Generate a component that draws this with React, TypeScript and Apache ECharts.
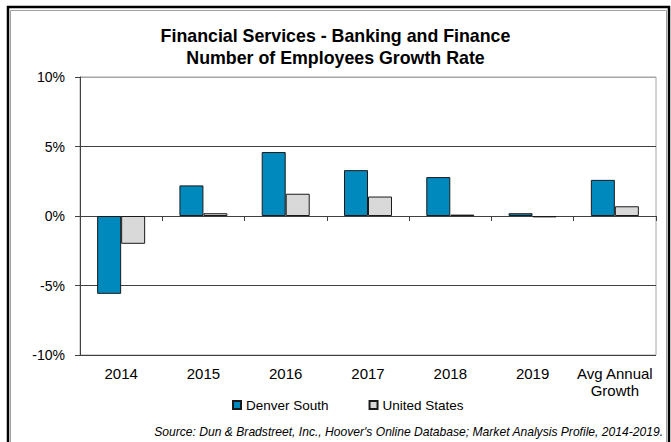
import React, { useEffect, useRef } from "react";
import * as echarts from "echarts";

const categories = ["2014", "2015", "2016", "2017", "2018", "2019", "Avg Annual\nGrowth"];
const denverSouth = [-5.6, 2.2, 4.6, 3.3, 2.8, 0.2, 2.6];
const unitedStates = [-2.0, 0.2, 1.6, 1.4, 0.1, -0.1, 0.7];
const titleLines = ["Financial Services - Banking and Finance", "Number of Employees Growth Rate"];
const sourceText = "Source: Dun & Bradstreet, Inc., Hoover's Online Database; Market Analysis Profile, 2014-2019.";

const FONT = "'Liberation Sans', Arial, sans-serif";

export default function App() {
  const ref = useRef<HTMLDivElement>(null);
  useEffect(() => {
    if (!ref.current) return;
    const chart = echarts.init(ref.current, undefined, { renderer: "svg" });
    chart.setOption({
      animation: false,
      backgroundColor: "#fff",
      textStyle: { fontFamily: FONT, color: "#000" },
      title: {
        text: titleLines.join("\n"),
        left: "center",
        top: 20,
        textStyle: { fontFamily: FONT, fontSize: 17.8, fontWeight: "bold", color: "#000", lineHeight: 22 },
      },
      legend: {
        left: 232,
        top: 398,
        padding: 0,
        icon: "rect",
        itemWidth: 8,
        itemHeight: 8,
        itemGap: 40,
        itemTextGap: 2,
        textStyle: { fontFamily: FONT, fontSize: 13.5, color: "#000" },
        data: ["Denver South", "United States"],
      },
      grid: {
        left: 80,
        right: 15,
        top: 77,
        bottom: 87,
        show: true,
        borderColor: "#A6A6A6",
        borderWidth: 1,
        backgroundColor: "transparent",
      },
      xAxis: [
        {
          type: "category",
          data: categories,
          axisLine: { onZero: true, lineStyle: { color: "#404040", width: 1 } },
          axisTick: { show: true, length: 5, lineStyle: { color: "#404040" } },
          axisLabel: { show: false },
        },
        {
          type: "category",
          data: categories,
          position: "bottom",
          axisLine: { show: false, onZero: false },
          axisTick: { show: false },
          axisLabel: {
            margin: 10,
            fontFamily: FONT,
            fontSize: 15,
            color: "#000",
            lineHeight: 17,
            interval: 0,
          },
        },
      ],
      yAxis: {
        type: "value",
        min: -10,
        max: 10,
        interval: 5,
        axisLine: { show: true, lineStyle: { color: "#404040" } },
        axisTick: { show: true, length: 5, lineStyle: { color: "#404040" } },
        axisLabel: { formatter: "{value}%", fontFamily: FONT, fontSize: 14, color: "#000", margin: 15 },
        splitLine: {
          show: true,
          lineStyle: { color: ["#404040", "#404040", "#404040", "#404040", "#A6A6A6"], width: 1 },
        },
      },
      series: [
        {
          name: "Denver South",
          type: "bar",
          xAxisIndex: 0,
          data: denverSouth,
          barWidth: 24,
          barGap: "0%",
          itemStyle: { color: "#0089BC", borderColor: "#1a1a1a", borderWidth: 1 },
        },
        {
          name: "United States",
          type: "bar",
          xAxisIndex: 0,
          data: unitedStates,
          barWidth: 24,
          barGap: "0%",
          itemStyle: { color: "#D9D9D9", borderColor: "#1a1a1a", borderWidth: 1 },
        },
      ],
      graphic: [
        {
          type: "rect",
          shape: { x: 8, y: 7, width: 661, height: 460 },
          style: { fill: "none", stroke: "#000", lineWidth: 2.5 },
          silent: true,
        },
        {
          type: "rect",
          shape: { x: 10.5, y: 10.5, width: 656, height: 450 },
          style: { fill: "none", stroke: "#A0A0A0", lineWidth: 1 },
          silent: true,
        },
        {
          type: "text",
          x: 663,
          y: 432,
          style: {
            text: sourceText,
            textAlign: "right",
            textVerticalAlign: "middle",
            fontFamily: FONT,
            fontSize: 12.1,
            fontStyle: "italic",
            fill: "#000",
          },
        },
      ],
    });
    return () => chart.dispose();
  }, []);
  return (
    <div
      ref={ref}
      style={{ position: "fixed", left: 0, top: 0, width: 671, height: 442 }}
    />
  );
}
